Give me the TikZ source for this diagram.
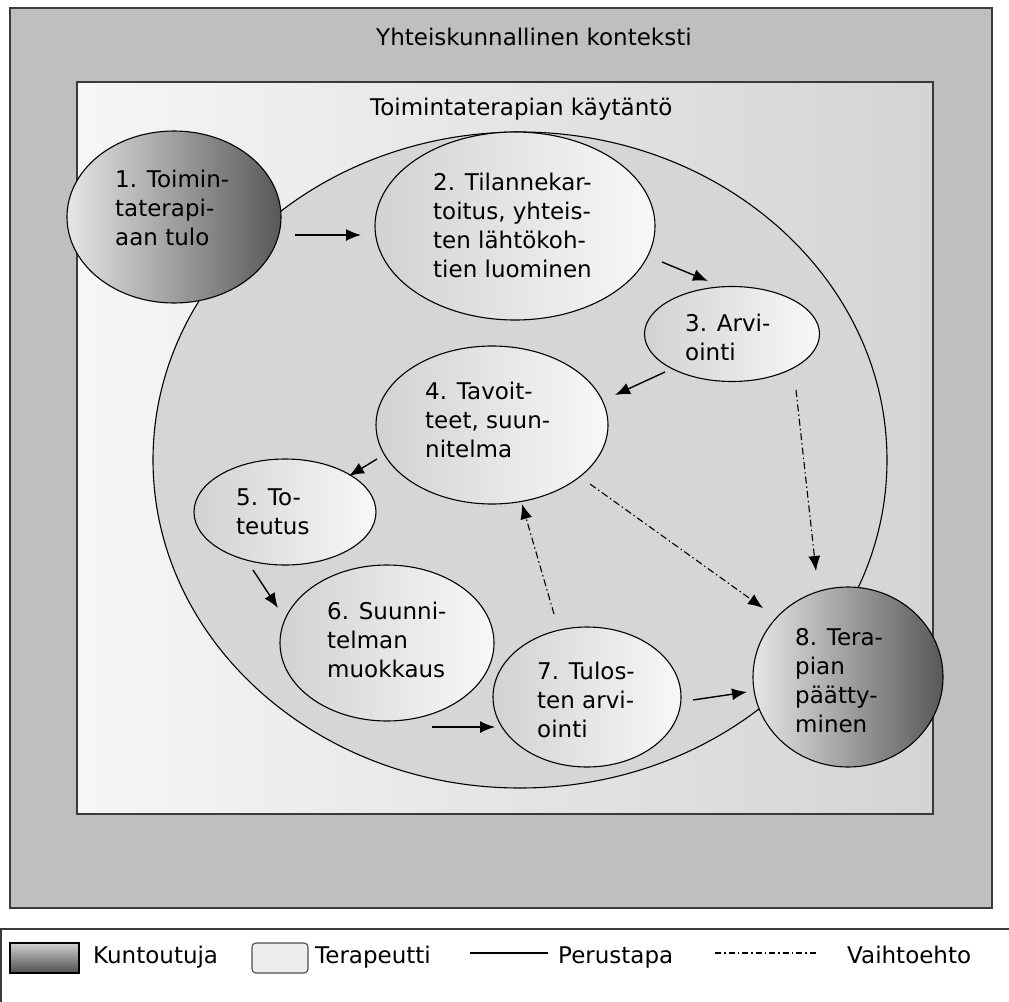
\documentclass[tikz,border=0pt]{standalone}
\usepackage{fontspec}
\setmainfont{DejaVu Sans}
\usetikzlibrary{shapes.geometric,arrows.meta}

\definecolor{ctxgray}{HTML}{BFBFBF}
\definecolor{practL}{HTML}{F6F6F6}
\definecolor{practR}{HTML}{D4D4D4}
\definecolor{circlefill}{HTML}{D6D6D6}
\definecolor{therL}{HTML}{D2D2D2}
\definecolor{therR}{HTML}{F8F8F8}
\definecolor{clientL}{HTML}{E6E6E6}
\definecolor{clientR}{HTML}{585858}
\definecolor{framecol}{HTML}{3A3A3A}
\definecolor{keyTop}{HTML}{D0D0D0}
\definecolor{keyBot}{HTML}{4E4E4E}
\definecolor{keyLight}{HTML}{EDEDED}

\begin{document}
\begin{tikzpicture}[x=1pt,y=-1pt,
  every node/.style={font=\fontsize{23}{29}\selectfont},
  frame/.style={draw=framecol, line width=1.6pt},
  outline/.style={ellipse, draw=black, line width=1.1pt, inner sep=0pt},
  therapist/.style={outline, left color=therL, right color=therR},
  client/.style={outline, left color=clientL, right color=clientR},
  % multi-line labels are placed by the baseline of their last line
  label/.style={anchor=base west, align=left, inner sep=0pt},
  flow/.style={-{Latex[length=15pt,width=12pt]}, line width=1.4pt},
  alt/.style={flow, line width=1.1pt, dash pattern=on 7pt off 3pt on 1.5pt off 3pt},
  keyline/.style={line width=1.1pt},
]
\useasboundingbox (0,0) rectangle (1009,1001);
\clip (0,0) rectangle (1009,1001);
\fill[white] (0,0) rectangle (1009,1001);

% societal context and practice frames
\draw[frame, fill=ctxgray] (10,8) rectangle (992,908);
\draw[frame, left color=practL, right color=practR] (77,82) rectangle (933,814);
\node[label] (ctx) at (376,45) {Yhteiskunnallinen konteksti};
\node[label] (prac) at (370,115) {Toimintaterapian käytäntö};

% the shared circle of the process
\node[ellipse, draw=black, line width=1.1pt, fill=circlefill, inner sep=0pt,
      minimum width=734pt, minimum height=656pt] (circ) at (520,460) {};

% process steps
\node[client,    minimum width=214pt, minimum height=172pt] (n1) at (174,217) {};
\node[therapist, minimum width=280pt, minimum height=188pt] (n2) at (515,226) {};
\node[therapist, minimum width=175pt, minimum height=95pt]  (n3) at (732,334) {};
\node[therapist, minimum width=232pt, minimum height=158pt] (n4) at (492,425) {};
\node[therapist, minimum width=182pt, minimum height=106pt] (n5) at (285,512) {};
\node[therapist, minimum width=214pt, minimum height=156pt] (n6) at (387,643) {};
\node[therapist, minimum width=188pt, minimum height=140pt] (n7) at (587,697) {};
\node[client,    minimum width=190pt, minimum height=180pt] (n8) at (848,677) {};

\node[label] (t1) at (115,245) {1. Toimin-\\taterapi-\\aan tulo};
\node[label] (t2) at (433,277) {2. Tilannekar-\\toitus, yhteis-\\ten lähtökoh-\\tien luominen};
\node[label] (t3) at (685,360) {3. Arvi-\\ointi};
\node[label] (t4) at (425,457) {4. Tavoit-\\teet, suun-\\nitelma};
\node[label] (t5) at (236,534) {5. To-\\teutus};
\node[label] (t6) at (327,677) {6. Suunni-\\telman\\muokkaus};
\node[label] (t7) at (537,737) {7. Tulos-\\ten arvi-\\ointi};
\node[label] (t8) at (795,732) {8. Tera-\\pian\\päätty-\\minen};

% arrow end points
\coordinate (a12) at (295,235);  \coordinate (b12) at (361,235);
\coordinate (a23) at (662,262);  \coordinate (b23) at (708,281);
\coordinate (a34) at (665,372);  \coordinate (b34) at (615,395);
\coordinate (a45) at (377,459);  \coordinate (b45) at (349,476);
\coordinate (a56) at (253,570);  \coordinate (b56) at (278,608);
\coordinate (a67) at (432,727);  \coordinate (b67) at (495,727);
\coordinate (a78) at (693,700);  \coordinate (b78) at (747,692);
\coordinate (a38) at (796,390);  \coordinate (b38) at (816,571);
\coordinate (a48) at (590,484);  \coordinate (b48) at (763,608);
\coordinate (a74) at (554,614);  \coordinate (b74) at (522,504);

% usual path
\draw[flow] (a12) -- (b12);
\draw[flow] (a23) -- (b23);
\draw[flow] (a34) -- (b34);
\draw[flow] (a45) -- (b45);
\draw[flow] (a56) -- (b56);
\draw[flow] (a67) -- (b67);
\draw[flow] (a78) -- (b78);
% alternative paths
\draw[alt] (a38) -- (b38);
\draw[alt] (a48) -- (b48);
\draw[alt] (a74) -- (b74);

% legend
\draw[frame, fill=white] (1,929) rectangle (1030,1030);
\node[draw=black, line width=1.1pt, top color=keyTop, bottom color=keyBot,
      inner sep=0pt, minimum width=69pt, minimum height=30pt] (kclient) at (44.5,958) {};
\node[label] (lclient) at (93,963) {Kuntoutuja};
\node[draw=black!70, line width=1.1pt, fill=keyLight, rounded corners=4pt,
      inner sep=0pt, minimum width=56pt, minimum height=30pt] (kther) at (280,958) {};
\node[label] (lther) at (315,963) {Terapeutti};
\coordinate (ks1) at (470,953); \coordinate (ke1) at (548,953);
\draw[keyline] (ks1) -- (ke1);
\node[label] (lbase) at (558,963) {Perustapa};
\coordinate (ks2) at (715,953); \coordinate (ke2) at (818,953);
\draw[keyline, dash pattern=on 6pt off 3pt on 1.5pt off 3pt] (ks2) -- (ke2);
\node[label] (lalt) at (847,963) {Vaihtoehto};
\end{tikzpicture}
\end{document}
